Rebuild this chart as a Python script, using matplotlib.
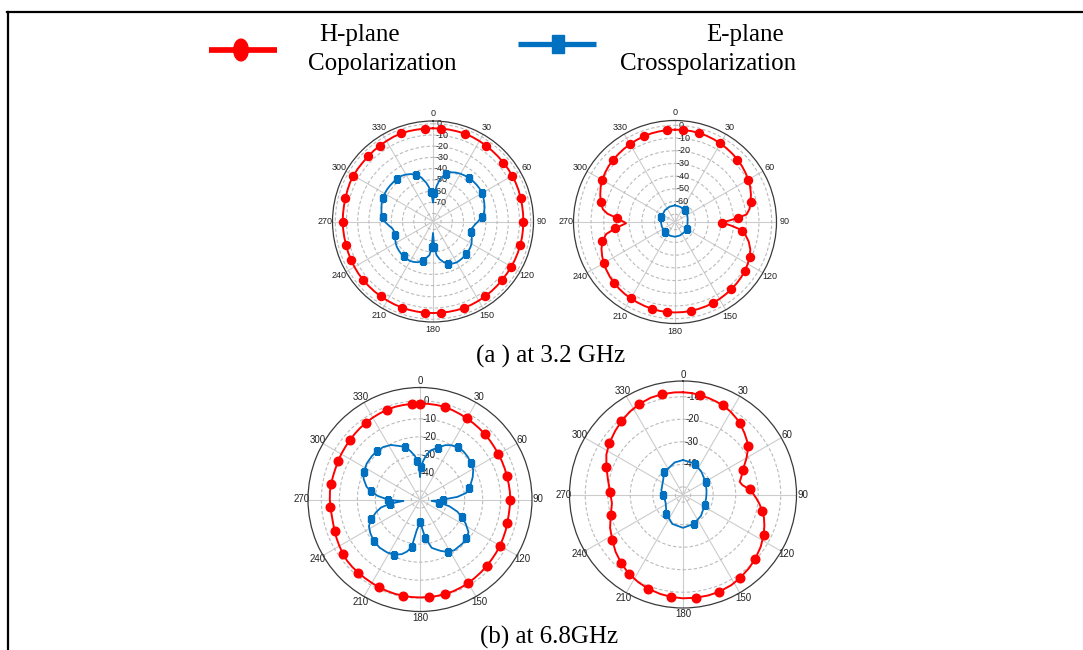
import numpy as np
import matplotlib
matplotlib.use("Agg")
import matplotlib.pyplot as plt
from matplotlib.lines import Line2D
from matplotlib.patches import Ellipse, Rectangle

W, H, DPI = 1083, 650, 100
RED = "#ff0000"
BLUE = "#0070c0"
SANS = "Liberation Sans"
SERIF = "Liberation Serif"

ANGLE_TICKS = list(range(0, 360, 30))

# ---- (a) 3.2 GHz, left panel ----
A1_CO_DEG = list(range(0, 361, 5))
A1_CO_DB = [-4.0, -4.0, -3.9, -3.9, -3.8, -4.0, -4.3, -4.6, -4.9, -5.1,
            -5.3, -5.4, -5.5, -5.7, -5.9, -6.2, -6.4, -6.5, -6.6, -6.6,
            -6.5, -6.5, -6.5, -6.5, -6.5, -6.5, -6.4, -6.2, -6.0, -5.8,
            -5.6, -5.4, -5.3, -5.3, -5.4, -5.5, -5.5, -5.5, -5.5, -5.5,
            -5.5, -5.6, -5.7, -5.7, -5.8, -5.9, -5.9, -6.0, -6.2, -6.4,
            -6.6, -6.8, -6.8, -6.7, -6.6, -6.6, -6.5, -6.3, -5.9, -5.4,
            -5.2, -5.2, -5.3, -5.1, -4.8, -4.5, -4.2, -3.8, -3.6, -3.7,
            -3.9, -4.0, -4.0]
A1_CR_DEG = [0, 3, 6, 10,
             15, 20, 25, 30, 35, 40, 45, 50, 55, 60, 65, 70, 75, 80, 85, 90,
             95, 100, 105, 110, 115, 120, 125, 130, 135, 140, 145, 150, 155,
             160, 165, 170,
             174, 177, 180, 183, 186,
             190, 195, 200, 205, 210, 215, 220, 225, 230, 235, 240, 245, 250,
             255, 260, 265, 270, 275, 280, 285, 290, 295, 300, 305, 310, 315,
             320, 325, 330, 335, 340, 345, 350,
             353, 356, 360]
A1_CR_DB = [-70, -62, -55, -48,
            -43, -40.5, -39, -38, -37.3, -36.8, -36.5, -36.3, -36.3, -36.8,
            -37.5, -38.5, -39.5, -41, -43.5, -47, -50, -52, -52, -50.5, -49,
            -47.5, -46.6, -46, -45.6, -45.3, -45.1, -45, -45.8, -47, -49.5, -53,
            -57, -64, -77, -64, -57,
            -54.5, -51, -48.5, -47.3, -46.5, -46.3, -46.5, -46.8, -47.2, -47.8,
            -48.7, -50, -51, -51.5, -50.5, -47.5, -44, -42, -40.5, -39.5,
            -38.5, -37.8, -37.4, -37.2, -37.2, -37.3, -37.4, -37.6, -38.8,
            -40.5, -43, -46.5, -52,
            -56, -61, -70]

# ---- (a) 3.2 GHz, right panel ----
A2_CO_DEG = [0, 5, 10, 15, 20, 25, 30, 35, 40, 45, 50, 55, 60, 65, 70, 75, 80,
             84, 86, 88, 90, 91, 92.5, 94, 96, 98, 100, 105, 110, 115, 120,
             125, 130, 135, 140, 145, 150, 155, 160, 165, 170, 175, 180, 185,
             190, 195, 200, 205, 210, 215, 220, 225, 230, 235, 240, 245, 250,
             255, 260, 264, 267, 268.5, 270, 272, 274, 277, 280, 285, 290, 295,
             300, 305, 310, 315, 320, 325, 330, 335, 340, 345, 350, 355, 360]
A2_CO_DB = [-3.4, -3.4, -3.4, -3.5, -3.8, -4.2, -4.7, -5.3, -5.9, -6.6, -7.4,
            -8.4, -9.5, -10.8, -12.5, -14.5, -16.5,
            -19.5, -26, -32, -37.5, -39, -35, -31, -26, -22.5, -20, -16, -13,
            -11.2, -10,
            -9, -8.2, -7.6, -7, -6.6, -6.1, -5.7, -5.4, -5.2, -5, -4.9, -4.9,
            -4.9,
            -5.1, -5.4, -5.8, -6.2, -6.6, -7, -7.6, -8.3, -9.1, -10.2, -11.4,
            -12.8, -14.5,
            -17, -21, -29, -35, -37.5, -36, -33, -30, -22.5, -18.5, -15.5,
            -13.5, -11.5,
            -10, -8.8, -7.8, -7.1, -6.5, -5.9, -5.3, -4.8, -4.3, -3.9, -3.7,
            -3.5, -3.4]
A2_CR_DEG = [0, 20, 40, 60, 75, 90, 105, 120, 137, 160, 180, 200, 225, 250,
             270, 290, 319, 340, 360]
A2_CR_DB = [-63, -63.5, -64.2, -65, -65.8, -66.2, -66, -65.6, -65.2, -64.8,
            -64.5, -64.6, -64.9, -65.1, -65, -64.6, -63.9, -63.3, -63]

# ---- (b) 6.8 GHz, left panel ----
B1_CO_DEG = list(range(0, 361, 5))
B1_CO_DB = [-1.5, -1.5, -1.5, -1.6, -2.0, -2.4, -2.8, -3.1, -3.4, -3.7,
            -4.0, -4.3, -4.5, -4.6, -4.7, -4.8, -4.8, -4.7, -4.7, -4.8,
            -4.8, -4.6, -4.2, -3.9, -3.5, -3.2, -2.9, -2.5, -2.1, -1.7,
            -1.2, -0.9, -0.6, -0.5, -0.4, -0.4, -0.4, -0.4, -0.5, -0.6,
            -0.8, -1.0, -1.3, -1.5, -1.6, -1.7, -1.9, -2.5, -3.1, -3.7,
            -4.3, -4.8, -5.0, -4.9, -4.7, -4.6, -4.7, -4.8, -4.8, -4.6,
            -4.3, -4.1, -3.8, -3.4, -3.0, -2.7, -2.3, -2.0, -1.7, -1.5,
            -1.5, -1.5, -1.5]
B1_CR_DEG = [0, 1.5, 4, 7, 12, 19,
             25, 30, 36, 42, 48, 54, 61, 67, 72, 77, 82, 86,
             90, 94, 96.5, 99, 103, 108, 112.6, 118, 124, 130,
             136, 146, 152, 158, 163, 166.4, 172, 176, 179, 183,
             186, 190, 194, 198.5, 205, 212, 220, 228, 236, 242.4,
             248, 254, 258.4, 262, 265, 267, 270, 275, 280, 283.4,
             290, 296, 304, 312, 318, 325, 332, 339, 344, 349,
             353.4, 356, 358.5, 360]
B1_CR_DB = [-42, -37, -34, -31, -27, -24.3,
            -21.5, -20, -18.9, -18.8, -19.2, -20, -21, -23, -25, -27, -29, -34,
            -41.8, -46, -48.3, -44, -38, -33, -29.7, -26, -22.3, -21.3,
            -20.8, -20.8, -21.8, -24, -26, -27.2, -33, -39, -42.4, -40,
            -37.7, -28, -25, -22.8, -21, -20.2, -19.9, -20.3, -21.5, -22.8,
            -25.5, -29.5, -32.7, -38, -45.5, -42, -36.8, -31, -27, -24.3,
            -21.5, -20, -19.1, -18.8, -18.9, -19.2, -20.5, -23, -24.4, -27.5,
            -30.5, -33.5, -37, -42]

# ---- (b) 6.8 GHz, right panel ----
B2_CO_DEG = [0, 5, 9.5, 15, 20, 24, 30, 35, 38.3, 45, 50, 53.4, 57, 60.4, 64,
             68.2, 73, 77.4, 81, 85.7, 90, 93, 97, 101.7, 106, 111, 116.8,
             124, 131.5, 138, 145.6, 152, 159.7, 166, 173, 180, 186.5, 193,
             200.4, 207, 214.5, 222, 229.6, 237, 245.4, 254, 262.8, 272,
             281.3, 290, 297.6, 305, 313.3, 320, 327.2, 334, 341.5, 348,
             355.3, 360]
B2_CO_DB = [-8, -8.2, -8.6, -9.1, -9.6, -10, -11, -12.1, -12.8, -14.8, -16.3,
            -17.4, -19.3, -21, -23,
            -24.7, -26.3, -27.6, -26.7, -23.7, -22, -20.8, -19.2, -17.5, -16,
            -14.7, -13.3,
            -11.8, -10.5, -9.5, -8.5, -7.8, -7.3, -7.2, -7.2, -7.3, -7.6, -8.1,
            -8.8, -9.7, -10.8, -12.4, -14.1, -16, -17.8, -20, -21.6, -21,
            -19.4, -17.2, -15, -13.5, -12.1, -10.9, -9.7, -8.8, -8.1, -7.9,
            -7.9, -8]
B2_CR_DEG = [0, 20.6, 40, 62, 80, 90, 100, 116, 140, 160, 180, 200, 220,
             243.4, 260, 270, 281, 303.7, 320, 345.4, 360]
B2_CR_DB = [-38.1, -38.7, -40.5, -42, -42.8, -43, -43, -42.7, -41, -39.5,
            -38.6, -39.5, -42, -44.8, -45, -44.5, -43.6, -42.7, -40.5, -38.7,
            -38.1]

fig = plt.figure(figsize=(W / DPI, H / DPI), dpi=DPI)
fig.patch.set_facecolor("white")


def fx(x):
    return x / W


def fy(y):
    return 1 - y / H


def px_rect(cx, cy, r):
    return [(cx - r) / W, 1 - (cy + r) / H, 2 * r / W, 2 * r / H]


def panel(cx, cy, r, rlim, rticks, rlabels, fs, pad, co, cr,
          co_start, cr_start, every, ms_co, ms_cr):
    ax = fig.add_axes(px_rect(cx, cy, r), projection="polar")
    ax.set_theta_zero_location("N")
    ax.set_theta_direction(-1)
    ax.set_xticks(np.deg2rad(ANGLE_TICKS))
    ax.set_xticklabels([str(a) for a in ANGLE_TICKS], fontsize=fs,
                       family=SANS, color="#222222")
    ax.set_ylim(*rlim)
    ax.set_yticks(rticks)
    ax.set_yticklabels(rlabels, fontsize=fs, family=SANS, color="#222222",
                       ha="left", va="center")
    ax.set_rlabel_position(2)
    ax.tick_params(axis="x", pad=pad)
    ax.xaxis.grid(True, color="#cccccc", lw=0.8, ls="-")
    ax.yaxis.grid(True, color="#bbbbbb", lw=0.8, ls=(0, (3, 2)))
    ax.spines["polar"].set_color("#3a3a3a")
    ax.spines["polar"].set_linewidth(0.9)

    deg, db = co
    ax.plot(np.deg2rad(deg), db, color=RED, lw=1.4, marker="o", ms=ms_co,
            markevery=(co_start, every), zorder=3)
    deg, db = cr
    ax.plot(np.deg2rad(deg), db, color=BLUE, lw=1.3, marker="s", ms=ms_cr,
            markevery=(cr_start, every), zorder=3)
    return ax


def ticks_and_labels(lo, hi, unlabeled):
    vals = list(range(lo, hi + 1, 10))
    labs = ["" if v in unlabeled else str(v) for v in vals]
    return vals, labs


t, l = ticks_and_labels(-80, 0, [-80])
panel(433, 221.5, 100.5, (-87.2, 2.5), t, l, 6.5, -5.0,
      (A1_CO_DEG, A1_CO_DB), (A1_CR_DEG, A1_CR_DB),
      0.0375, 0.04, 0.078, 5.8, 4.5)

t, l = ticks_and_labels(-70, 0, [-70])
panel(675, 222, 101.5, (-76.1, 3.8), t, l, 6.5, -5.0,
      (A2_CO_DEG, A2_CO_DB), (A2_CR_DEG, A2_CR_DB),
      0.021, 0.035, 0.076, 5.8, 4.5)

t, l = ticks_and_labels(-50, 0, [-50])
panel(420, 499.5, 112, (-54.8, 7.4), t, l, 7, -6.0,
      (B1_CO_DEG, B1_CO_DB), (B1_CR_DEG, B1_CR_DB),
      0.0, 0.03, 0.076, 6.2, 4.9)

t, l = ticks_and_labels(-50, -10, [-50])
panel(683, 494.5, 113.5, (-53.4, -3.0), t, l, 7, -6.0,
      (B2_CO_DEG, B2_CO_DB), (B2_CR_DEG, B2_CR_DB),
      0.052, 0.037, 0.076, 6.2, 4.9)

# frame lines
fig.add_artist(Line2D([fx(7), 1.0], [fy(12), fy(12)], color="black",
                      lw=1.6, transform=fig.transFigure))
fig.add_artist(Line2D([fx(8), fx(8)], [fy(12), 0.0], color="black",
                      lw=1.6, transform=fig.transFigure))

# legend keys
fig.add_artist(Line2D([fx(209), fx(277)], [fy(50), fy(50)], color=RED,
                      lw=4.1, solid_capstyle="butt", transform=fig.transFigure))
fig.add_artist(Ellipse((fx(241), fy(50)), 14.6 / W, 21.7 / H, color=RED,
                       transform=fig.transFigure))
fig.add_artist(Line2D([fx(518), fx(596)], [fy(43.5), fy(43.5)], color=BLUE,
                      lw=3.8, solid_capstyle="butt", transform=fig.transFigure))
fig.add_artist(Rectangle((fx(551.7), fy(53)), 12 / W, 18 / H, color=BLUE,
                         transform=fig.transFigure))

# legend text
LEG_FS = 18
fig.text(fx(360), fy(41), "H-plane", ha="center", va="baseline",
         fontsize=LEG_FS, family=SERIF)
fig.text(fx(382), fy(70), "Copolarization", ha="center", va="baseline",
         fontsize=LEG_FS, family=SERIF)
fig.text(fx(745), fy(41), "E-plane", ha="center", va="baseline",
         fontsize=LEG_FS, family=SERIF)
fig.text(fx(708), fy(70), "Crosspolarization", ha="center", va="baseline",
         fontsize=LEG_FS, family=SERIF)

# captions
fig.text(fx(551), fy(363), "(a ) at 3.2 GHz", ha="center", va="baseline",
         fontsize=LEG_FS, family=SERIF)
fig.text(fx(549), fy(644), "(b) at 6.8GHz", ha="center", va="baseline",
         fontsize=LEG_FS, family=SERIF)

fig.savefig("out.png", dpi=DPI, facecolor="white")
